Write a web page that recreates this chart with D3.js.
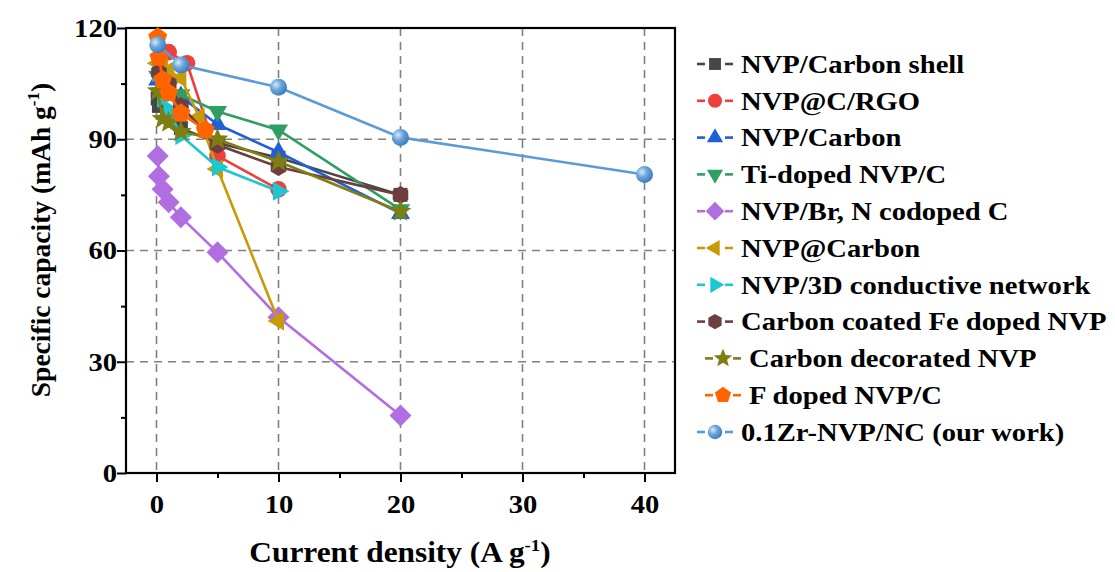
<!DOCTYPE html>
<html><head><meta charset="utf-8">
<script src="https://cdn.jsdelivr.net/npm/d3@7"></script>
<style>body{margin:0;background:#fff;}</style>
</head><body>
<svg id="chart" width="1115" height="572"></svg>
<script>
// ---- data ----
const seriesNames = ["NVP/Carbon shell","NVP@C/RGO","NVP/Carbon","Ti-doped NVP/C","NVP/Br, N codoped C","NVP@Carbon","NVP/3D conductive network","Carbon coated Fe doped NVP","Carbon decorated NVP","F doped NVP/C","0.1Zr-NVP/NC (our work)"];
const seriesColors = ["#474747","#ee3f3c","#1f5fd8","#2e9e62","#b16ee0","#c99a08","#1cc7d2","#6e3e3e","#7e7e12","#ff6400","#5b9bd5"];
const seriesShapes = ["square","circle","triUp","triDown","diamond","triLeft","triRight","hexagon","star","pentagon","sphere"];

const xShell = [0.1,0.2,1,2,5,10,20];       const yShell = [101,99,96,93,89,85,75];
const xRGO   = [1,2.5,5,10];                const yRGO   = [113.5,110.5,85.5,76.5];
const xCarb  = [0.1,1,2,5,10,20];           const yCarb  = [106,103,101.5,94,86.5,70];
const xTi    = [0.1,1,2,5,10,20];           const yTi    = [107,104,102,97.5,92.5,71];
const xBrN   = [0.1,0.2,0.5,1,2,5,10,20];   const yBrN   = [85.5,80,76.5,73,69,59.5,42,15.5];
const xAtC   = [0.1,0.5,1,2,3.5,5,10];      const yAtC   = [110.5,109.5,108.5,106.5,96,82,41];
const x3D    = [0.1,0.5,1,2,5,10];          const y3D    = [108,101,98,91,82.5,76];
const xFe    = [0.2,1,2,5,10,20];           const yFe    = [108,105,99,88.5,82.5,75];
const xDec   = [0.1,0.5,1,2,5,10,20];       const yDec   = [103,95.5,94.5,92,90,84,70.5];
const xF     = [0.1,0.2,0.5,1,2,4];         const yF     = [117.5,112,106,102.5,97,92.5];
const xZr    = [0.1,2,10,20,40];            const yZr    = [115.5,110,104,90.5,80.5];

const xTicks = [0,10,20,30,40];
const yTicks = [0,30,60,90,120];

const seriesX = [xShell,xRGO,xCarb,xTi,xBrN,xAtC,x3D,xFe,xDec,xF,xZr];
const seriesY = [yShell,yRGO,yCarb,yTi,yBrN,yAtC,y3D,yFe,yDec,yF,yZr];
const series = seriesNames.map((n,i)=>({name:n,color:seriesColors[i],shape:seriesShapes[i],
  pts:seriesX[i].map((x,j)=>({x:x,y:seriesY[i][j]}))}));

// ---- layout ----
const FONT='"Liberation Serif","Times New Roman",serif';
const SX=1.1;
const L=126,R=675,T=28,B=473;
const svg=d3.select("#chart");
const x=d3.scaleLinear().domain([-2.5,42.5]).range([L,R]);
const y=d3.scaleLinear().domain([0,120]).range([B,T]);
function tx(sel,size){return sel.style("font-family",FONT).style("font-weight","bold").style("font-size",size+"px").attr("fill","#000");}

const defs=svg.append("defs");
const grad=defs.append("radialGradient").attr("id","sph").attr("cx","0.35").attr("cy","0.35").attr("r","0.7");
grad.append("stop").attr("offset","0").attr("stop-color","#d8e9f8");
grad.append("stop").attr("offset","0.45").attr("stop-color","#6aa6dc");
grad.append("stop").attr("offset","1").attr("stop-color","#3c78b8");

// grid
const grid=svg.append("g").attr("stroke","#808080").attr("stroke-width",1.6).attr("stroke-dasharray","8,6");
grid.selectAll("line.v").data(xTicks).join("line").attr("class","v").attr("x1",d=>x(d)).attr("x2",d=>x(d)).attr("y1",T).attr("y2",B);
grid.selectAll("line.h").data(yTicks.filter(d=>d>0&&d<120)).join("line").attr("class","h").attr("x1",L).attr("x2",R).attr("y1",d=>y(d)).attr("y2",d=>y(d));

// axes
const xAxis=d3.axisBottom(x).tickValues(xTicks).tickSize(9).tickPadding(13).tickFormat(d3.format("d"));
const xMinor=d3.axisBottom(x).tickValues([5,15,25,35]).tickSize(5).tickFormat("");
const yAxis=d3.axisLeft(y).tickValues(yTicks).tickSize(9).tickPadding(0).tickFormat(d3.format("d"));
const yMinor=d3.axisLeft(y).tickValues([15,45,75,105]).tickSize(5).tickFormat("");

function styleAxis(g){
  g.attr("font-family",null);
  g.select(".domain").remove();
  g.selectAll("line").attr("stroke","#000").attr("stroke-width",2);
  tx(g.selectAll("text"),26).attr("transform",`scale(${SX},1)`);
}
svg.append("g").attr("transform",`translate(0,${B})`).call(xAxis).call(styleAxis);
svg.append("g").attr("transform",`translate(0,${B})`).call(xMinor).call(styleAxis);
const gy=svg.append("g").attr("transform",`translate(${L},0)`).call(yAxis).call(styleAxis);
gy.selectAll("text").attr("x",-8.2);
svg.append("g").attr("transform",`translate(${L},0)`).call(yMinor).call(styleAxis);

// frame
svg.append("rect").attr("x",L).attr("y",T).attr("width",R-L).attr("height",B-T)
  .attr("fill","none").attr("stroke","#000").attr("stroke-width",2.2);

// ---- symbols ----
function poly(n,r,rot){
  const p=[];
  for(let k=0;k<n;k++){const a=rot+k*2*Math.PI/n;p.push([r*Math.cos(a),r*Math.sin(a)]);}
  return "M"+p.map(q=>q[0].toFixed(2)+","+q[1].toFixed(2)).join("L")+"Z";
}
function star(ro,ri){
  const p=[];
  for(let k=0;k<10;k++){const r=k%2?ri:ro;const a=-Math.PI/2+k*Math.PI/5;p.push([r*Math.cos(a),r*Math.sin(a)]);}
  return "M"+p.map(q=>q[0].toFixed(2)+","+q[1].toFixed(2)).join("L")+"Z";
}
function shapePath(shape,s){
  switch(shape){
    case "square": return `M${-7*s},${-7*s}h${14*s}v${14*s}h${-14*s}Z`;
    case "circle": return d3.symbol(d3.symbolCircle, Math.PI*8.3*8.3*s*s)();
    case "sphere": return d3.symbol(d3.symbolCircle, Math.PI*8.5*8.5*s*s)();
    case "triUp": return poly(3,11*s,-Math.PI/2);
    case "triDown": return poly(3,11*s,Math.PI/2);
    case "triLeft": return poly(3,11*s,Math.PI);
    case "triRight": return poly(3,11*s,0);
    case "diamond": return poly(4,11*s,-Math.PI/2);
    case "hexagon": return poly(6,9*s,-Math.PI/2);
    case "pentagon": return poly(5,10*s,-Math.PI/2);
    case "star": return star(11.5*s,5*s);
  }
}
function fillOf(d){return d.shape==="sphere"?"url(#sph)":d.color;}

// ---- series ----
const line=d3.line().x(d=>x(d.x)).y(d=>y(d.y));
const sg=svg.append("g");
series.forEach(s=>{
  const g=sg.append("g");
  g.append("path").attr("d",line(s.pts)).attr("fill","none").attr("stroke",s.color).attr("stroke-width",2.6);
  g.selectAll("path.m").data(s.pts).join("path").attr("class","m")
    .attr("transform",d=>`translate(${x(d.x)},${y(d.y)})`)
    .attr("d",shapePath(s.shape,1)).attr("fill",fillOf(s)).attr("stroke","none");
});

// ---- legend ----
const leg=svg.append("g");
const legY0=64, legDy=36.8;
series.forEach((s,i)=>{
  const off=(i===8||i===9)?8:0;
  const cx=715+off, cy=legY0+i*legDy;
  const g=leg.append("g");
  g.append("line").attr("x1",cx-18).attr("x2",cx-10).attr("y1",cy).attr("y2",cy).attr("stroke",s.color).attr("stroke-width",2.6);
  g.append("line").attr("x1",cx+10).attr("x2",cx+18).attr("y1",cy).attr("y2",cy).attr("stroke",s.color).attr("stroke-width",2.6);
  g.append("path").attr("transform",`translate(${cx},${cy})`).attr("d",shapePath(s.shape,0.85)).attr("fill",fillOf(s));
  tx(g.append("text"),26).attr("transform",`translate(${741+off},${cy}) scale(${SX},1)`).attr("dy","0.34em").text(s.name);
});

// ---- axis titles ----
const yt=tx(svg.append("text"),27.5).attr("transform","translate(50,240) rotate(-90)").attr("text-anchor","middle");
yt.append("tspan").text("Specific capacity (mAh g");
yt.append("tspan").style("font-size","17px").attr("dy",-11).text("-1");
yt.append("tspan").attr("dy",11).text(")");
const xt=tx(svg.append("text"),28.5).attr("transform",`translate(400,562) scale(${SX},1)`).attr("text-anchor","middle");
xt.append("tspan").text("Current density (A g");
xt.append("tspan").style("font-size","17px").attr("dy",-11).text("-1");
xt.append("tspan").attr("dy",11).text(")");
</script>
</body></html>
